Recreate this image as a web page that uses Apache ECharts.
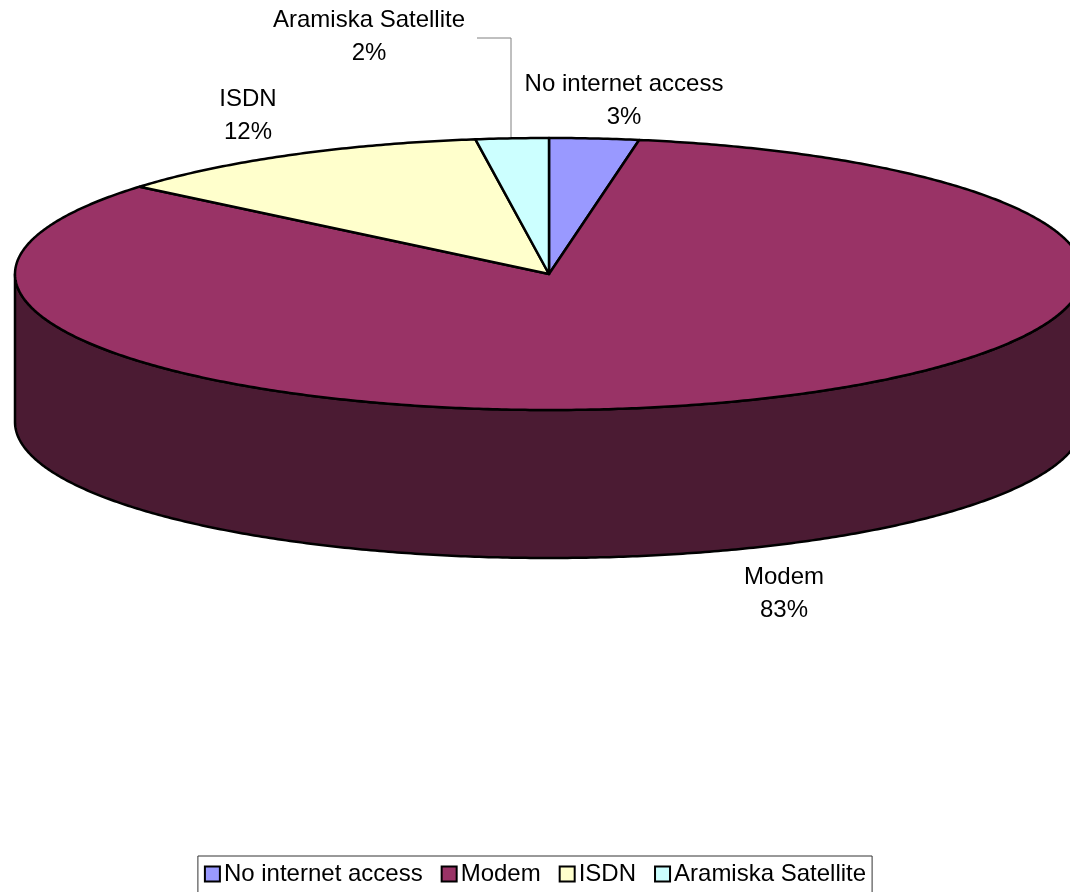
<!DOCTYPE html>
<html>
<head>
<meta charset="utf-8">
<script src="https://cdn.jsdelivr.net/npm/echarts@6/dist/echarts.min.js"></script>
<style>
  html, body { margin: 0; padding: 0; background: #fff; }
  #chart { width: 1070px; height: 892px; }
</style>
</head>
<body>
<div id="chart"></div>
<script>
// ---- data ----
const categories = ['No internet access', 'Modem', 'ISDN', 'Aramiska Satellite'];
const values = [2.7, 83.4, 11.7, 2.2];

// ---- styling / layout ----
const topColors = ['#9999FF', '#993366', '#FFFFCC', '#CCFFFF'];
const sideColors = ['#4C4C80', '#4B1B33', '#808066', '#668080'];
const labelPos = [[624, 101], [784, 594], [248, 116], [369, 37]];
const leaders = [null, null, null, [[477, 38], [511, 38], [511, 137]]];
const CX = 549, CY = 274, RX = 534, RY = 136, DEPTH = 148;
const FONT = '24px "Liberation Sans", Arial, sans-serif';

const total = values.reduce((a, b) => a + b, 0);
const starts = [];
let acc = 0;
values.forEach(v => { starts.push(acc); acc += v; });

function pt(tDeg, dy) {
  const t = tDeg * Math.PI / 180;
  return [CX + RX * Math.sin(t), CY - RY * Math.cos(t) + (dy || 0)];
}

function arcPts(a1, a2, dy) {
  const pts = [];
  const n = Math.max(2, Math.ceil(Math.abs(a2 - a1) / 0.5));
  for (let i = 0; i <= n; i++) pts.push(pt(a1 + (a2 - a1) * i / n, dy));
  return pts;
}

function makeRender(idx) {
  return function (params, api) {
    const v = api.value(0);
    const a1 = starts[idx] / total * 360;
    const a2 = a1 + v / total * 360;
    const children = [];
    // front side wall (visible between 90deg and 270deg)
    const s1 = Math.max(a1, 90), s2 = Math.min(a2, 270);
    if (s2 > s1) {
      const top = arcPts(s1, s2, 0);
      const bot = arcPts(s2, s1, DEPTH);
      children.push({
        type: 'polygon',
        shape: { points: top.concat(bot) },
        style: { fill: sideColors[idx], stroke: '#000', lineWidth: 2.5, lineJoin: 'round' }
      });
    }
    // top face
    const topPts = [[CX, CY]].concat(arcPts(a1, a2, 0));
    children.push({
      type: 'polygon',
      shape: { points: topPts },
      style: { fill: topColors[idx], stroke: '#000', lineWidth: 2.5, lineJoin: 'round' }
    });
    if (leaders[idx]) {
      children.push({
        type: 'polyline',
        shape: { points: leaders[idx] },
        style: { stroke: '#808080', lineWidth: 1, fill: null }
      });
    }
    const pct = Math.round(v / total * 100) + '%';
    children.push({
      type: 'text',
      z2: 100,
      style: {
        text: categories[idx] + '\n' + pct,
        x: labelPos[idx][0], y: labelPos[idx][1],
        align: 'center', verticalAlign: 'middle',
        font: FONT, lineHeight: 33, fill: '#000'
      }
    });
    return { type: 'group', children: children };
  };
}

const series = categories.map((name, idx) => ({
  type: 'custom',
  name: name,
  coordinateSystem: 'none',
  itemStyle: { color: topColors[idx] },
  renderItem: makeRender(idx),
  data: [[values[idx]]],
  animation: false,
  silent: true
}));

const chart = echarts.init(document.getElementById('chart'), null, { renderer: 'canvas' });
chart.setOption({
  backgroundColor: '#fff',
  animation: false,
  legend: {
    data: categories.map(n => ({ name: n, icon: 'rect' })),
    left: 'center',
    top: 856,
    orient: 'horizontal',
    itemWidth: 15,
    itemHeight: 15,
    itemGap: 18,
    padding: [6, 6, 8, 6],
    borderColor: '#333',
    borderWidth: 1,
    itemStyle: { borderColor: '#000', borderWidth: 2 },
    textStyle: { fontFamily: '"Liberation Sans", Arial, sans-serif', fontSize: 24, color: '#000', padding: [0, 0, 0, -1] },
    selectedMode: false
  },
  series: series
});
</script>
</body>
</html>
